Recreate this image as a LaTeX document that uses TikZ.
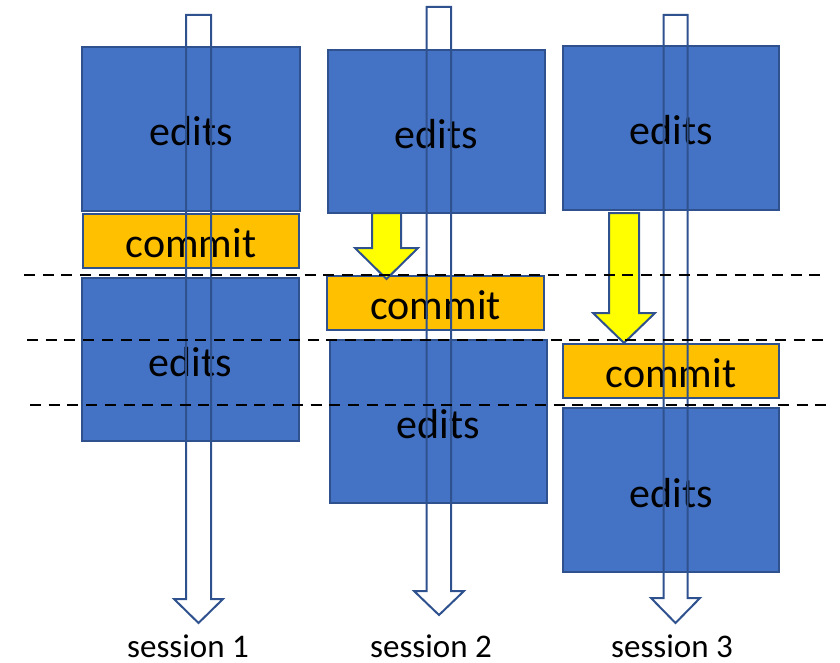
\documentclass[tikz,border=0pt]{standalone}
\usepackage{fontspec}
\setmainfont{Carlito}
\definecolor{boxblue}{HTML}{4472C4}
\definecolor{edgeblue}{HTML}{2F528F}
\definecolor{commitorange}{HTML}{FFC000}
\definecolor{arrowyellow}{HTML}{FFFF00}
\tikzset{
  ebox/.style={draw=edgeblue, fill=boxblue, line width=2pt, inner sep=0pt, outer sep=0pt},
  cbox/.style={draw=edgeblue, fill=commitorange, line width=2pt, inner sep=0pt, outer sep=0pt},
  lbl/.style={anchor=base, inner sep=0pt, font=\fontsize{42}{50}\selectfont, text=black},
  slbl/.style={anchor=base, inner sep=0pt, text depth=0pt, font=\fontsize{33}{40}\selectfont, text=black},
  bigarrow/.style={draw=edgeblue, line width=2pt, line join=miter},
  yarrow/.style={draw=edgeblue, fill=arrowyellow, line width=2pt, line join=miter},
  divider/.style={draw=black, line width=2.8pt, dash pattern=on 11pt off 7.7pt}
}
\begin{document}
\begin{tikzpicture}[x=1pt,y=-1pt]
\useasboundingbox (0,0) rectangle (840,663);
% session 1 boxes
\node[ebox, minimum width=218pt, minimum height=164pt] (s1e1) at (191,129) {};
\node[cbox, minimum width=216pt, minimum height=54pt] (s1c) at (191,241) {};
\node[ebox, minimum width=217pt, minimum height=163pt] (s1e2) at (190.5,359.5) {};
% session 2 boxes
\node[ebox, minimum width=217pt, minimum height=163pt] (s2e1) at (436.5,131.5) {};
\node[cbox, minimum width=217pt, minimum height=54pt] (s2c) at (435.5,303) {};
\node[ebox, minimum width=217pt, minimum height=163pt] (s2e2) at (438.5,421.5) {};
% session 3 boxes
\node[ebox, minimum width=216pt, minimum height=164pt] (s3e1) at (671,128) {};
\node[cbox, minimum width=216pt, minimum height=54pt] (s3c) at (671,370.5) {};
\node[ebox, minimum width=216pt, minimum height=164pt] (s3e2) at (671,490) {};
% labels
\node[lbl] (t1) at ([yshift=-17pt]s1e1.center) {edits};
\node[lbl] (t2) at ([yshift=-16.5pt]s1c.center) {commit};
\node[lbl] (t3) at ([yshift=-17pt]s1e2.center) {edits};
\node[lbl] (t4) at ([yshift=-17pt]s2e1.center) {edits};
\node[lbl] (t5) at ([yshift=-16.5pt]s2c.center) {commit};
\node[lbl] (t6) at ([yshift=-17pt]s2e2.center) {edits};
\node[lbl] (t7) at ([yshift=-17pt]s3e1.center) {edits};
\node[lbl] (t8) at ([yshift=-16.5pt]s3c.center) {commit};
\node[lbl] (t9) at ([yshift=-17pt]s3e2.center) {edits};
% yellow arrows
\draw[yarrow] (372,213) -- (401,213) -- (401,248) -- (418,248) -- (386.5,279) -- (355,248) -- (372,248) -- cycle;
\draw[yarrow] (609,213) -- (639,213) -- (639,313) -- (655,313) -- (624,343) -- (593,313) -- (609,313) -- cycle;
% big session arrows
\draw[bigarrow] (186,15) -- (211,15) -- (211,599) -- (223,599) -- (198.5,623) -- (174,599) -- (186,599) -- cycle;
\draw[bigarrow] (426.5,7) -- (451,7) -- (451,591) -- (464,591) -- (439,615) -- (414,591) -- (426.5,591) -- cycle;
\draw[bigarrow] (663.5,15) -- (687.5,15) -- (687.5,598) -- (700,598) -- (675.5,623) -- (651,598) -- (663.5,598) -- cycle;
% dividers
\coordinate (d1a) at (24,275); \coordinate (d1b) at (827,275);
\coordinate (d2a) at (27,340); \coordinate (d2b) at (830,340);
\coordinate (d3a) at (30,405); \coordinate (d3b) at (833,405);
\draw[divider] (d1a) -- (d1b);
\draw[divider] (d2a) -- (d2b);
\draw[divider] (d3a) -- (d3b);
% session labels
\node[slbl] (l1) at (188,657) {session 1};
\node[slbl] (l2) at (431,657) {session 2};
\node[slbl] (l3) at (672,657) {session 3};
\end{tikzpicture}
\end{document}
